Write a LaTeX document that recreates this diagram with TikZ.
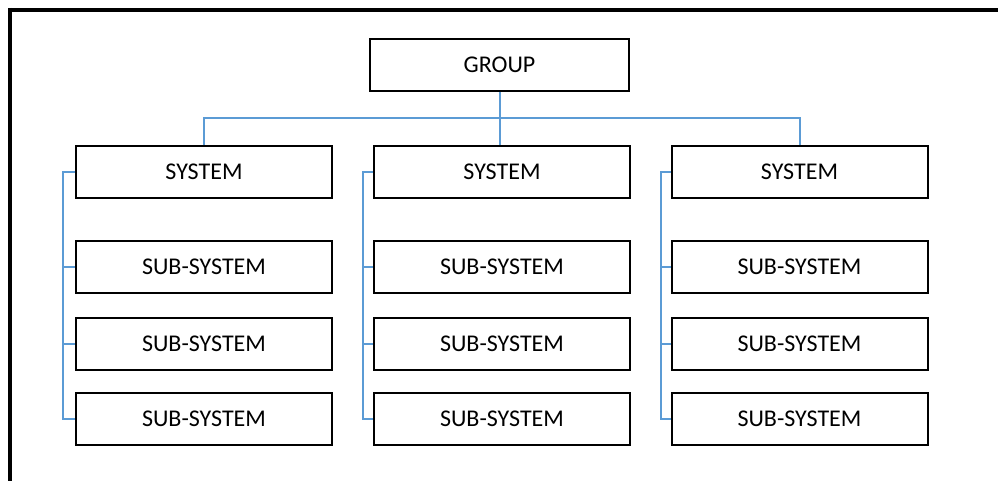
\documentclass[tikz,border=0pt]{standalone}
\usepackage{fontspec}
\setmainfont{Carlito}
\definecolor{connblue}{HTML}{5B9BD5}
\begin{document}
\begin{tikzpicture}[x=1pt,y=-1pt,
  box/.style={draw=black, line width=2pt, minimum width=256pt, minimum height=52pt, inner sep=0pt, font=\fontsize{24}{28}\selectfont},
  conn/.style={draw=connblue, line width=2pt}]
\useasboundingbox (0,0) rectangle (998,481);
\draw[line width=4pt] (8,10) -- (998,10);
\draw[line width=4pt] (10,8) -- (10,481);
\node[box, minimum width=259pt] (g) at (499.5,65) {GROUP};
\foreach \c/\x/\b in {a/204/63, b/502/363, c/799.5/661} {
  \node[box] (\c s) at (\x,172) {SYSTEM};
  \node[box] (\c 1) at (\x,267) {SUB-SYSTEM};
  \node[box] (\c 2) at (\x,343.5) {SUB-SYSTEM};
  \node[box] (\c 3) at (\x,419) {SUB-SYSTEM};
  \coordinate (\c t) at (\b,172);
  \coordinate (\c b) at (\b,419);
  \draw[conn] (\c s.west) -- (\c t) -- (\c b) -- (\c 3.west);
  \draw[conn] (\c t |- \c 1.west) -- (\c 1.west);
  \draw[conn] (\c t |- \c 2.west) -- (\c 2.west);
}
\coordinate (h) at (500,118);
\draw[conn] (g.south) -- (g.south |- bs.north);
\draw[conn] (as.north) -- (as.north |- h) -- (cs.north |- h) -- (cs.north);
\end{tikzpicture}
\end{document}
